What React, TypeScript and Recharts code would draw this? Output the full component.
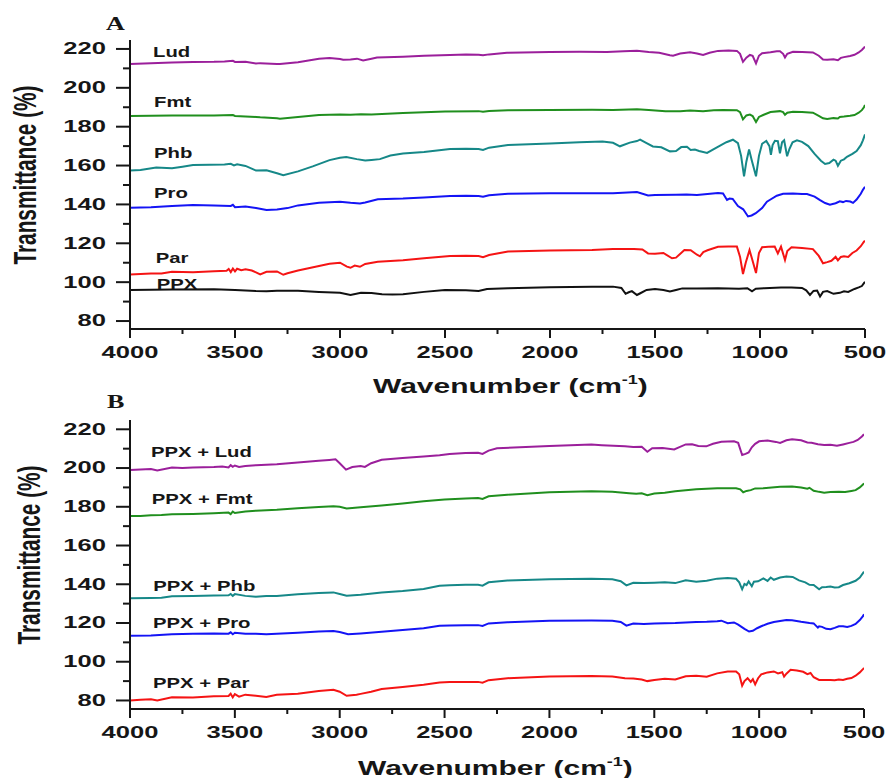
import React from 'react';
import { LineChart, Line, XAxis, YAxis } from 'recharts';

// ---------- Panel A spectra: [wavenumber (cm-1), transmittance (%)] ----------
const LUD: number[][] = [
  [4000, 212.3], [3900, 212.6], [3800, 213.0], [3700, 213.3], [3600, 213.4], [3550, 213.6], [3510, 213.9], [3500, 213.3],
  [3450, 213.4], [3400, 212.5], [3380, 212.7], [3300, 212.3], [3286, 212.2], [3200, 213.2], [3100, 215.0], [3050, 215.3],
  [3000, 214.8], [2985, 214.4], [2950, 214.6], [2919, 215.0], [2890, 214.1], [2850, 215.0], [2824, 215.6], [2700, 216.0],
  [2600, 216.5], [2476, 216.9], [2400, 217.1], [2340, 217.0], [2319, 216.7], [2290, 217.2], [2205, 218.0], [2000, 218.4],
  [1860, 218.5], [1729, 218.4], [1650, 218.8], [1586, 219.1], [1530, 218.4], [1480, 218.0], [1429, 216.8], [1414, 216.5],
  [1380, 217.6], [1333, 218.3], [1300, 217.7], [1271, 216.9], [1240, 218.0], [1200, 219.0], [1150, 219.2], [1110, 219.0],
  [1095, 217.5], [1081, 213.4], [1065, 215.5], [1048, 216.9], [1035, 216.5], [1019, 212.6], [1005, 216.5], [990, 217.8],
  [950, 218.3], [920, 218.8], [905, 218.8], [890, 217.5], [881, 215.6], [870, 217.5], [843, 218.5], [800, 218.4],
  [748, 218.2], [720, 216.5], [700, 214.6], [680, 214.4], [650, 214.7], [629, 214.2], [615, 215.4], [600, 215.8],
  [571, 216.4], [550, 217.0], [530, 218.2], [515, 219.5], [505, 220.6], [500, 221.2],
];
const FMT: number[][] = [
  [4000, 185.5], [3900, 185.6], [3800, 185.8], [3700, 185.7], [3600, 185.7], [3510, 186.0], [3500, 185.5], [3400, 185.0],
  [3380, 184.8], [3300, 184.3], [3286, 184.1], [3200, 185.0], [3100, 186.0], [3050, 186.2], [3000, 186.3], [2950, 186.2],
  [2900, 186.4], [2850, 186.3], [2700, 187.0], [2500, 187.8], [2340, 188.0], [2319, 187.7], [2290, 188.1], [2200, 188.4],
  [2000, 188.6], [1800, 188.7], [1700, 188.6], [1586, 189.0], [1530, 188.6], [1450, 188.0], [1414, 187.9], [1380, 188.0],
  [1333, 188.3], [1271, 187.9], [1220, 188.4], [1176, 188.6], [1110, 188.5], [1095, 187.5], [1081, 183.8], [1065, 185.8],
  [1048, 186.2], [1035, 185.5], [1019, 182.4], [1005, 185.0], [985, 186.0], [950, 187.5], [905, 188.0], [890, 187.5],
  [881, 186.1], [870, 187.2], [843, 187.7], [800, 187.6], [748, 187.2], [720, 185.6], [700, 184.3], [680, 184.0],
  [650, 184.4], [629, 184.2], [620, 185.0], [600, 185.2], [571, 185.6], [550, 186.0], [530, 187.2], [515, 188.5],
  [505, 190.0], [500, 191.2],
];
const PHB: number[][] = [
  [4000, 157.4], [3950, 157.7], [3875, 159.0], [3800, 158.6], [3750, 159.4], [3700, 160.3], [3620, 160.4], [3550, 160.5],
  [3520, 160.9], [3505, 160.1], [3490, 160.7], [3450, 159.8], [3400, 157.4], [3350, 157.6], [3300, 156.0], [3270, 155.0],
  [3200, 157.0], [3130, 159.6], [3050, 162.8], [3000, 164.0], [2970, 164.4], [2920, 163.3], [2880, 162.6], [2850, 162.9],
  [2810, 163.3], [2760, 165.2], [2700, 166.2], [2600, 167.0], [2476, 168.5], [2400, 168.6], [2340, 168.5], [2319, 168.0],
  [2290, 169.2], [2200, 170.6], [2000, 171.3], [1860, 172.0], [1750, 172.4], [1700, 171.7], [1667, 169.9], [1620, 171.8],
  [1586, 172.6], [1571, 173.3], [1540, 171.5], [1510, 169.8], [1470, 169.4], [1429, 167.3], [1400, 167.5], [1375, 169.5],
  [1348, 169.7], [1330, 168.0], [1310, 168.2], [1290, 167.5], [1252, 166.5], [1220, 168.5], [1190, 170.3], [1160, 172.0],
  [1129, 173.3], [1105, 171.5], [1090, 165.0], [1076, 154.4], [1065, 162.0], [1052, 168.3], [1040, 163.0], [1019, 154.5],
  [1005, 165.0], [990, 171.2], [970, 172.7], [955, 170.0], [948, 165.5], [940, 170.5], [929, 172.7], [915, 172.5],
  [905, 166.3], [895, 172.0], [885, 173.0], [871, 164.8], [860, 168.5], [845, 172.0], [824, 173.0], [800, 172.2],
  [770, 170.0], [740, 166.0], [710, 162.5], [690, 160.8], [670, 161.3], [650, 163.0], [640, 162.5], [629, 159.9],
  [615, 162.5], [600, 163.2], [586, 164.5], [560, 166.0], [540, 167.5], [520, 170.5], [510, 173.0], [500, 176.0],
];
const PRO: number[][] = [
  [4000, 138.3], [3900, 138.6], [3800, 139.2], [3700, 139.7], [3600, 139.4], [3520, 139.2], [3510, 139.8], [3500, 138.6],
  [3450, 138.9], [3400, 138.2], [3350, 137.1], [3300, 137.4], [3250, 138.1], [3200, 139.5], [3100, 140.8], [3000, 141.4],
  [2950, 140.8], [2920, 140.6], [2905, 140.5], [2880, 141.0], [2820, 142.6], [2700, 143.0], [2600, 143.6], [2476, 144.3],
  [2400, 144.4], [2340, 144.3], [2319, 144.0], [2290, 144.7], [2200, 145.5], [2000, 145.7], [1800, 145.8], [1700, 145.8],
  [1586, 146.4], [1533, 144.6], [1500, 144.9], [1400, 145.0], [1350, 145.1], [1300, 144.8], [1250, 145.4], [1200, 145.9],
  [1176, 145.6], [1157, 142.3], [1145, 143.0], [1130, 142.8], [1105, 139.2], [1080, 137.5], [1057, 133.8], [1040, 134.3],
  [1020, 135.5], [990, 138.1], [967, 141.4], [952, 142.4], [920, 144.5], [890, 145.5], [843, 145.6], [800, 145.3],
  [776, 145.3], [740, 144.0], [714, 142.2], [690, 140.7], [667, 139.8], [640, 140.6], [620, 141.6], [605, 141.2],
  [590, 141.8], [570, 141.5], [557, 140.8], [540, 142.5], [520, 145.5], [510, 147.5], [500, 149.1],
];
const PAR: number[][] = [
  [4000, 104.0], [3900, 104.4], [3850, 104.5], [3800, 105.4], [3700, 105.1], [3600, 105.6], [3540, 105.9], [3530, 106.8],
  [3520, 105.2], [3510, 107.0], [3500, 105.6], [3490, 106.9], [3470, 106.2], [3450, 106.6], [3420, 106.0], [3400, 105.0],
  [3380, 104.0], [3350, 105.3], [3300, 105.5], [3270, 103.8], [3250, 104.6], [3200, 106.0], [3100, 108.3], [3050, 109.5],
  [3000, 110.0], [2967, 108.0], [2950, 107.4], [2930, 108.5], [2905, 107.9], [2880, 109.4], [2820, 110.5], [2700, 111.3],
  [2600, 112.3], [2476, 113.5], [2400, 113.6], [2340, 113.4], [2319, 112.8], [2290, 114.0], [2200, 115.8], [2000, 116.3],
  [1800, 116.6], [1700, 117.0], [1600, 117.1], [1560, 116.8], [1533, 114.8], [1500, 114.6], [1460, 115.0], [1419, 112.3],
  [1400, 112.6], [1360, 116.5], [1330, 116.4], [1300, 114.1], [1286, 113.3], [1270, 115.5], [1250, 116.4], [1200, 118.2],
  [1150, 118.4], [1110, 118.3], [1095, 113.0], [1081, 104.2], [1068, 110.0], [1050, 116.5], [1038, 112.0], [1019, 104.7],
  [1005, 115.0], [990, 118.0], [960, 118.2], [930, 118.3], [915, 114.8], [900, 118.3], [881, 111.4], [870, 116.0],
  [850, 118.0], [800, 117.6], [748, 117.0], [720, 113.5], [700, 109.7], [680, 110.3], [660, 111.0], [640, 113.0],
  [629, 111.2], [615, 113.0], [600, 113.3], [580, 113.0], [560, 115.0], [540, 116.3], [520, 118.5], [505, 120.8],
  [500, 121.3],
];
const PPX: number[][] = [
  [4000, 96.0], [3800, 96.2], [3600, 96.3], [3500, 96.0], [3400, 95.4], [3350, 95.3], [3300, 95.6], [3200, 95.6],
  [3100, 95.0], [3000, 94.6], [2950, 93.4], [2900, 94.5], [2850, 94.4], [2800, 93.8], [2750, 93.7], [2700, 93.8],
  [2600, 95.0], [2500, 96.0], [2400, 95.9], [2340, 95.5], [2300, 96.5], [2200, 96.9], [2000, 97.4], [1800, 97.7],
  [1700, 97.7], [1660, 97.0], [1640, 94.0], [1625, 94.8], [1610, 95.4], [1586, 93.4], [1570, 94.3], [1540, 96.0],
  [1500, 96.5], [1460, 96.0], [1429, 95.2], [1400, 96.0], [1370, 96.8], [1300, 96.7], [1200, 96.9], [1100, 96.6],
  [1060, 96.9], [1038, 95.3], [1020, 96.6], [980, 96.9], [900, 97.3], [850, 97.2], [800, 97.0], [780, 95.8],
  [762, 93.4], [745, 95.5], [728, 95.7], [714, 92.6], [700, 95.0], [680, 95.4], [650, 94.0], [620, 94.5],
  [600, 95.3], [580, 95.0], [550, 96.5], [530, 97.3], [515, 98.0], [505, 99.5], [500, 100.2],
];

// ---------- Panel B spectra (PPX + extract) ----------
const PPX_LUD: number[][] = [
  [4000, 199.0], [3950, 199.2], [3900, 199.5], [3870, 198.8], [3800, 200.3], [3750, 200.0], [3700, 200.3], [3600, 200.5],
  [3560, 200.8], [3530, 200.3], [3520, 201.5], [3510, 200.6], [3500, 201.3], [3480, 200.6], [3450, 201.0], [3400, 201.5],
  [3300, 202.0], [3200, 202.9], [3100, 203.7], [3050, 204.2], [3020, 204.5], [3000, 202.5], [2970, 199.2], [2940, 200.5],
  [2900, 201.0], [2880, 200.6], [2850, 202.5], [2800, 204.3], [2700, 205.2], [2600, 205.9], [2524, 206.6], [2476, 207.2],
  [2400, 207.8], [2340, 207.9], [2319, 207.3], [2290, 209.0], [2250, 210.2], [2000, 211.4], [1800, 212.1], [1750, 211.8],
  [1640, 211.2], [1600, 210.8], [1560, 211.0], [1533, 208.4], [1510, 210.2], [1460, 210.4], [1405, 209.6], [1380, 210.8],
  [1350, 212.2], [1320, 212.3], [1290, 211.4], [1252, 211.2], [1220, 212.5], [1180, 213.6], [1120, 213.8], [1100, 213.0],
  [1081, 206.7], [1065, 207.3], [1050, 208.0], [1035, 210.7], [1019, 212.5], [1000, 213.8], [960, 214.2], [920, 213.5],
  [900, 213.0], [870, 214.3], [843, 214.8], [800, 214.3], [770, 213.2], [750, 213.0], [720, 212.3], [690, 211.9],
  [660, 212.0], [629, 211.5], [600, 212.2], [570, 213.0], [550, 213.5], [530, 214.5], [510, 216.3], [500, 217.5],
];
const PPX_FMT: number[][] = [
  [4000, 175.3], [3950, 175.2], [3900, 175.6], [3850, 175.7], [3800, 176.1], [3700, 176.3], [3600, 176.7], [3530, 177.0],
  [3520, 176.2], [3510, 177.5], [3500, 176.8], [3450, 177.6], [3400, 178.0], [3300, 178.5], [3200, 179.3], [3100, 179.9],
  [3030, 180.3], [3000, 180.0], [2967, 179.1], [2900, 179.7], [2800, 180.6], [2700, 181.7], [2600, 182.8], [2500, 183.8],
  [2400, 184.3], [2340, 184.5], [2319, 184.0], [2290, 185.4], [2200, 186.2], [2000, 187.5], [1800, 188.0], [1700, 187.8],
  [1620, 187.0], [1586, 186.7], [1560, 187.0], [1533, 186.0], [1500, 186.8], [1450, 187.3], [1400, 188.0], [1300, 189.0],
  [1200, 189.6], [1110, 189.6], [1090, 189.0], [1076, 187.5], [1060, 188.2], [1040, 188.6], [1019, 189.5], [980, 189.6],
  [900, 190.3], [843, 190.5], [800, 190.0], [770, 189.3], [760, 189.8], [740, 188.3], [714, 187.7], [690, 187.3],
  [660, 187.6], [620, 187.8], [590, 187.6], [560, 188.2], [540, 188.6], [520, 190.0], [505, 191.5], [500, 192.1],
];
const PPX_PHB: number[][] = [
  [4000, 132.8], [3900, 132.9], [3850, 133.0], [3800, 133.8], [3700, 134.0], [3600, 134.2], [3530, 134.3], [3520, 135.0],
  [3510, 134.0], [3500, 134.9], [3450, 134.0], [3400, 133.6], [3350, 133.9], [3300, 134.0], [3200, 134.9], [3100, 135.5],
  [3030, 135.8], [3000, 135.0], [2967, 134.1], [2900, 134.6], [2800, 135.8], [2700, 136.5], [2600, 137.5], [2524, 139.2],
  [2476, 139.5], [2400, 139.7], [2340, 139.7], [2319, 139.3], [2290, 141.0], [2200, 141.9], [2000, 142.6], [1800, 142.8],
  [1700, 142.6], [1660, 141.6], [1633, 139.4], [1600, 140.8], [1550, 140.6], [1500, 140.8], [1450, 141.0], [1400, 140.6],
  [1350, 142.0], [1300, 141.3], [1250, 141.8], [1200, 142.9], [1150, 143.2], [1110, 142.8], [1095, 141.0], [1081, 137.4],
  [1070, 140.2], [1060, 139.6], [1050, 141.5], [1035, 139.0], [1025, 141.3], [1005, 141.5], [980, 143.0], [960, 141.7],
  [945, 143.5], [930, 142.3], [900, 143.5], [870, 144.0], [840, 143.8], [810, 142.0], [780, 141.0], [760, 139.7],
  [740, 139.6], [714, 137.4], [700, 138.5], [680, 138.6], [660, 138.8], [640, 138.3], [620, 138.5], [600, 139.6],
  [570, 140.5], [540, 141.8], [520, 143.5], [505, 145.7], [500, 146.5],
];
const PPX_PRO: number[][] = [
  [4000, 113.4], [3900, 113.6], [3800, 114.2], [3700, 114.4], [3600, 114.6], [3530, 114.5], [3520, 115.2], [3510, 114.2],
  [3500, 115.0], [3450, 114.4], [3400, 114.5], [3350, 114.2], [3300, 114.5], [3200, 115.0], [3100, 115.6], [3030, 115.9],
  [3000, 115.3], [2960, 114.2], [2900, 114.6], [2800, 115.5], [2700, 116.4], [2600, 117.3], [2524, 118.6], [2476, 118.7],
  [2400, 118.8], [2340, 118.9], [2319, 118.5], [2290, 119.8], [2200, 120.4], [2000, 121.1], [1800, 121.3], [1700, 121.2],
  [1660, 120.5], [1633, 118.6], [1600, 119.7], [1550, 119.5], [1500, 119.8], [1400, 120.0], [1300, 120.5], [1250, 120.6],
  [1200, 120.9], [1180, 121.2], [1150, 119.9], [1120, 120.3], [1100, 119.2], [1070, 117.0], [1048, 115.6], [1030, 116.0],
  [1010, 117.3], [990, 118.3], [960, 119.6], [930, 120.5], [900, 121.0], [870, 121.5], [843, 121.4], [800, 120.6],
  [760, 120.0], [740, 119.8], [720, 117.6], [714, 118.3], [700, 118.0], [680, 117.0], [660, 116.8], [640, 117.5],
  [620, 118.3], [600, 118.3], [580, 117.9], [560, 118.5], [540, 119.5], [520, 121.5], [505, 123.5], [500, 124.5],
];
const PPX_PAR: number[][] = [
  [4000, 80.0], [3950, 80.4], [3900, 80.6], [3870, 80.0], [3800, 81.7], [3700, 81.6], [3600, 82.2], [3530, 82.3],
  [3520, 83.5], [3510, 81.6], [3500, 83.3], [3480, 82.0], [3450, 83.0], [3400, 82.5], [3350, 81.8], [3300, 82.9],
  [3200, 83.5], [3100, 84.9], [3030, 85.5], [3000, 84.5], [2967, 82.4], [2920, 83.0], [2900, 83.4], [2850, 84.5],
  [2800, 85.9], [2700, 87.0], [2600, 88.1], [2524, 89.3], [2476, 89.5], [2400, 89.6], [2340, 89.6], [2319, 89.2],
  [2290, 90.5], [2200, 91.5], [2000, 92.4], [1800, 92.6], [1700, 92.4], [1640, 91.5], [1600, 91.3], [1560, 90.8],
  [1533, 90.0], [1500, 90.6], [1450, 91.2], [1400, 90.8], [1350, 92.5], [1300, 92.8], [1250, 92.3], [1200, 94.0],
  [1150, 95.0], [1110, 95.0], [1095, 93.5], [1081, 87.6], [1070, 90.0], [1055, 91.5], [1040, 89.6], [1030, 91.0],
  [1019, 88.3], [1005, 91.5], [990, 93.5], [960, 94.5], [930, 95.0], [910, 94.0], [890, 94.6], [881, 92.3],
  [870, 93.8], [850, 95.8], [820, 95.5], [790, 94.8], [770, 93.6], [755, 94.2], [740, 92.0], [714, 90.6],
  [690, 90.6], [660, 90.6], [640, 90.4], [620, 90.8], [600, 90.6], [580, 91.2], [560, 91.6], [540, 92.8],
  [520, 94.5], [505, 96.2], [500, 96.8],
];

// ---------- Axes ----------
const X_TICKS = [4000, 3750, 3500, 3250, 3000, 2750, 2500, 2250, 2000, 1750, 1500, 1250, 1000, 750, 500];
const X_MAJOR = [4000, 3500, 3000, 2500, 2000, 1500, 1000, 500];
const Y_TICKS = [80, 90, 100, 110, 120, 130, 140, 150, 160, 170, 180, 190, 200, 210, 220];
const Y_MAJOR = [80, 100, 120, 140, 160, 180, 200, 220];

const SERIES_A = [
  { name: 'Lud', data: LUD, color: '#9b1f9b' },
  { name: 'Fmt', data: FMT, color: '#208f1e' },
  { name: 'Phb', data: PHB, color: '#168888' },
  { name: 'Pro', data: PRO, color: '#1414f5' },
  { name: 'Par', data: PAR, color: '#f51414' },
  { name: 'PPX', data: PPX, color: '#111111' },
];
const SERIES_B = [
  { name: 'PPX + Lud', data: PPX_LUD, color: '#9b1f9b' },
  { name: 'PPX + Fmt', data: PPX_FMT, color: '#208f1e' },
  { name: 'PPX + Phb', data: PPX_PHB, color: '#168888' },
  { name: 'PPX + Pro', data: PPX_PRO, color: '#1414f5' },
  { name: 'PPX + Par', data: PPX_PAR, color: '#f51414' },
];

const FONT = '"Liberation Sans", Arial, Helvetica, sans-serif';
const SERIF = '"Liberation Serif", "Times New Roman", serif';
const INK = '#161616';

const toPts = (arr: number[][]) => arr.map(([wn, t]) => ({ wn, t }));

const YTick = (props: any) => {
  const { x, y, payload } = props;
  const v = payload.value;
  const major = Y_MAJOR.includes(v);
  return (
    <g>
      <line x1={x} x2={x - (major ? 14 : 7)} y1={y} y2={y} stroke={INK} strokeWidth={2} />
      {major && (
        <text
          transform={`translate(${x - 24},${y}) scale(1.55,1)`}
          textAnchor="end"
          dominantBaseline="central"
          fontFamily={FONT}
          fontWeight="bold"
          fontSize={16.5}
          fill={INK}
        >
          {v}
        </text>
      )}
    </g>
  );
};

const XTick = (props: any) => {
  const { x, y, payload } = props;
  const v = payload.value;
  const major = X_MAJOR.includes(v);
  return (
    <g>
      <line x1={x} x2={x} y1={y} y2={y + (major ? 9 : 5)} stroke={INK} strokeWidth={2} />
      {major && (
        <text
          transform={`translate(${x},${y + 23.5}) scale(1.55,1)`}
          textAnchor="middle"
          dominantBaseline="central"
          fontFamily={FONT}
          fontWeight="bold"
          fontSize={16.5}
          fill={INK}
        >
          {v}
        </text>
      )}
    </g>
  );
};

type PanelProps = {
  series: { name: string; data: number[][]; color: string }[];
  height: number;
  margin: { top: number; right: number; bottom: number; left: number };
  yDomain: [number, number];
};

const Panel = ({ series, height, margin, yDomain }: PanelProps) => (
  <LineChart width={890} height={height} margin={margin}>
    <XAxis
      dataKey="wn"
      type="number"
      domain={[500, 4000]}
      reversed
      allowDataOverflow
      ticks={X_TICKS}
      interval={0}
      tick={<XTick />}
      tickLine={false}
      tickSize={0}
      tickMargin={0}
      height={30}
      axisLine={{ stroke: INK, strokeWidth: 2 }}
    />
    <XAxis
      xAxisId="top"
      dataKey="wn"
      type="number"
      orientation="top"
      domain={[500, 4000]}
      reversed
      tick={false}
      tickLine={false}
      height={0}
      axisLine={{ stroke: INK, strokeWidth: 2 }}
    />
    <YAxis
      type="number"
      domain={yDomain}
      allowDataOverflow
      ticks={Y_TICKS}
      interval={0}
      tick={<YTick />}
      tickLine={false}
      tickSize={0}
      tickMargin={0}
      width={60}
      axisLine={{ stroke: INK, strokeWidth: 2 }}
    />
    <YAxis
      yAxisId="right"
      orientation="right"
      type="number"
      domain={yDomain}
      tick={false}
      tickLine={false}
      width={0}
      axisLine={{ stroke: INK, strokeWidth: 2 }}
    />
    {series.map((s) => (
      <Line
        key={s.name}
        data={toPts(s.data)}
        dataKey="t"
        type="linear"
        dot={false}
        activeDot={false}
        stroke={s.color}
        strokeWidth={2}
        isAnimationActive={false}
      />
    ))}
  </LineChart>
);

const labelStyle = { fontFamily: FONT, fontWeight: 'bold' as const, fill: INK };

const SeriesLabel = ({ x, y, text }: { x: number; y: number; text: string }) => (
  <text transform={`translate(${x},${y}) scale(1.45,1)`} fontSize={14} {...labelStyle}>
    {text}
  </text>
);

const XTitle = ({ x, y }: { x: number; y: number }) => (
  <text transform={`translate(${x},${y}) scale(1.5,1)`} fontSize={20} {...labelStyle}>
    Wavenumber (cm
    <tspan fontSize={12} dy={-9}>-1</tspan>
    <tspan fontSize={20} dy={9}>)</tspan>
  </text>
);

const YTitle = ({ x, y }: { x: number; y: number }) => (
  <text
    transform={`translate(${x},${y}) scale(1.5,1) rotate(-90)`}
    textAnchor="middle"
    fontSize={20.8}
    {...labelStyle}
  >
    Transmittance (%)
  </text>
);

export default function App() {
  return (
    <div style={{ position: 'absolute', left: 0, top: 0, width: 890, height: 778, background: '#fff', overflow: 'hidden' }}>
      <div style={{ position: 'absolute', left: 0, top: 0 }}>
        <Panel series={SERIES_A} height={390} margin={{ top: 40, right: 25, bottom: 31, left: 70 }} yDomain={[75.9, 224.6]} />
      </div>
      <div style={{ position: 'absolute', left: 0, top: 390 }}>
        <Panel series={SERIES_B} height={388} margin={{ top: 30, right: 26, bottom: 39, left: 70 }} yDomain={[75.6, 224.8]} />
      </div>
      <svg width={890} height={778} style={{ position: 'absolute', left: 0, top: 0, pointerEvents: 'none' }}>
        <text transform="translate(106,30) scale(1.45,1)" fontFamily={SERIF} fontWeight="bold" fontSize={18} fill={INK}>A</text>
        <text transform="translate(107,408) scale(1.45,1)" fontFamily={SERIF} fontWeight="bold" fontSize={18} fill={INK}>B</text>
        <YTitle x={35.5} y={175} />
        <YTitle x={40} y={555} />
        <XTitle x={373} y={393} />
        <XTitle x={358} y={775} />
        <SeriesLabel x={153} y={57.3} text="Lud" />
        <SeriesLabel x={154} y={107} text="Fmt" />
        <SeriesLabel x={154} y={158.3} text="Phb" />
        <SeriesLabel x={154} y={198.3} text="Pro" />
        <SeriesLabel x={155.7} y={262.7} text="Par" />
        <SeriesLabel x={156.7} y={288.5} text="PPX" />
        <SeriesLabel x={151} y={457.3} text="PPX + Lud" />
        <SeriesLabel x={151.7} y={504.3} text="PPX + Fmt" />
        <SeriesLabel x={153.3} y={590.7} text="PPX + Phb" />
        <SeriesLabel x={153} y={628.3} text="PPX + Pro" />
        <SeriesLabel x={153} y={688.3} text="PPX + Par" />
      </svg>
    </div>
  );
}
